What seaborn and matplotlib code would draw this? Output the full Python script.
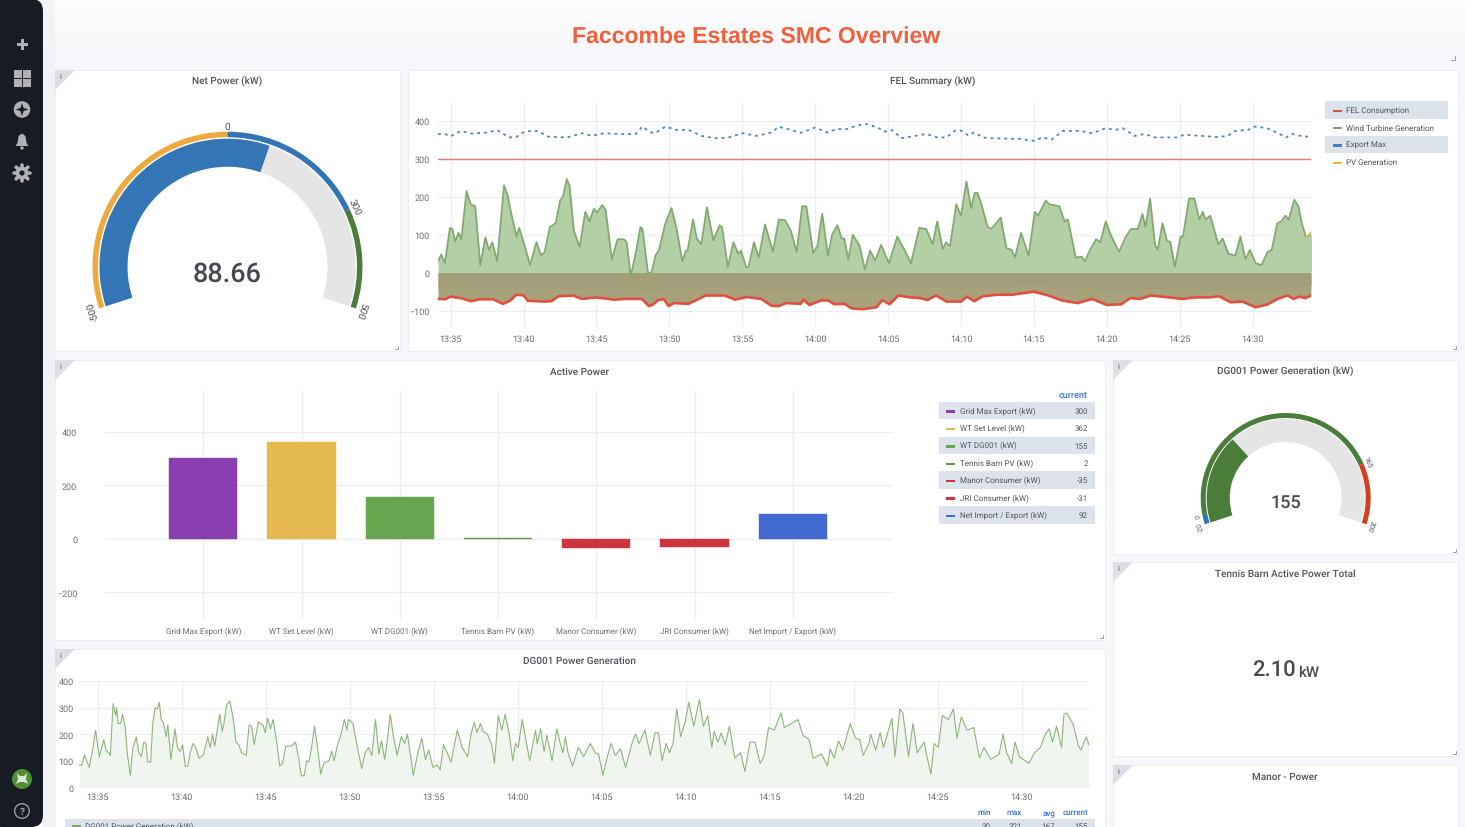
import matplotlib
matplotlib.use("Agg")
import matplotlib.pyplot as plt
from matplotlib.patches import Circle, FancyBboxPatch, Polygon, Rectangle, Wedge
import seaborn as sns
import numpy as np

# all times are minutes after 13:00
time_ticks = [35, 40, 45, 50, 55, 60, 65, 70, 75, 80, 85, 90]
time_labels = ["13:35", "13:40", "13:45", "13:50", "13:55", "14:00", "14:05", "14:10", "14:15", "14:20", "14:25", "14:30"]

wind_t = [34.13, 34.36, 34.6, 34.95, 35.12, 35.31, 35.54, 35.73, 36.09, 36.37, 36.68, 37.03, 37.38, 37.62, 37.86, 38.19,
          38.66, 38.9, 39.13, 39.51, 39.7, 40.08, 40.45, 40.88, 41.21, 41.45, 41.8, 41.99, 42.2, 42.51, 42.7, 42.96,
          43.15, 43.45, 43.85, 44.23, 44.52, 44.82, 45.04, 45.39, 45.63, 46.05, 46.45, 46.88, 47.07, 47.35, 47.73, 48.01,
          48.15, 48.53, 48.77, 49.05, 49.29, 49.71, 50.14, 50.47, 50.89, 51.13, 51.25, 51.62, 51.88, 52.19, 52.57, 53.02,
          53.44, 53.61, 54.01, 54.39, 54.72, 54.91, 55.26, 55.43, 55.8, 56.13, 56.56, 57.1, 57.5, 57.93, 58.33, 58.73,
          59.11, 59.39, 59.86, 60.15, 60.48, 60.88, 61.16, 61.52, 61.82, 61.99, 62.27, 62.58, 63.05, 63.41, 63.76, 64.12,
          64.52, 65.06, 65.63, 66.12, 66.57, 67.14, 67.61, 68.06, 68.37, 68.74, 68.97, 69.25, 69.67, 70, 70.37, 70.7,
          70.94, 71.12, 71.36, 71.83, 72.06, 72.3, 72.72, 73.11, 73.47, 73.7, 74.12, 74.64, 75.06, 75.29, 75.81, 76.04,
          76.74, 77.1, 77.33, 77.87, 78.27, 78.5, 78.85, 79.27, 79.56, 79.93, 80.26, 80.84, 81.31, 81.66, 82.13, 82.44,
          82.65, 82.97, 83.3, 83.49, 83.82, 84.12, 84.36, 84.66, 85.06, 85.22, 85.64, 86, 86.35, 86.58, 86.77, 87.1,
          87.64, 87.94, 88.34, 88.81, 89.16, 89.51, 89.81, 90.21, 90.61, 91.03, 91.31, 91.69, 91.97, 92.25, 92.48, 92.86,
          93.14, 93.37, 93.65, 94.03]
wind_kw = [30, 48, 25, 118, 115, 82, 105, 88, 215, 180, 175, 20, 93, 60, 80, 30,
           230, 205, 160, 95, 118, 70, 20, 80, 45, 55, 120, 125, 130, 190, 200, 246,
           230, 110, 68, 160, 135, 168, 158, 178, 165, 35, 88, 88, 80, -10, 60, 120,
           115, 0, 0, 45, 60, 128, 170, 120, 30, 58, 58, 140, 90, 75, 172, 85,
           125, 120, 15, 80, 50, 58, 15, 15, 80, 40, 127, 55, 140, 138, 110, 55,
           175, 175, 52, 70, 155, 45, 100, 125, 90, 90, 35, 100, 70, 8, 58, 32,
           73, 25, 95, 60, 25, 118, 115, 75, 135, 62, 80, 70, 180, 150, 240, 170,
           210, 210, 185, 120, 115, 125, 145, 65, 60, 40, 105, 45, 160, 150, 190, 180,
           175, 135, 140, 40, 42, 30, 60, 88, 80, 135, 100, 55, 95, 115, 115, 155,
           120, 195, 75, 60, 130, 85, 80, 15, 95, 95, 195, 195, 140, 160, 140, 150,
           75, 90, 50, 45, 95, 35, 60, 25, 20, 55, 60, 130, 135, 150, 140, 192,
           175, 130, 95, 100]

export_t = [34.13, 34.6, 35, 35.7, 36.5, 37.5, 38.2, 39, 39.5, 40.1, 41, 41.7, 43, 44, 44.7, 45.5, 46.5, 47.7, 48.15, 48.7,
            49.1, 49.75, 50.4, 51.3, 52.2, 53.1, 54, 55, 56, 57, 57.5, 58.4, 59, 60, 60.8, 61.5, 62.2, 62.8, 63.5, 64.3,
            64.7, 65.3, 65.9, 67, 67.6, 68.4, 69, 69.6, 70, 70.5, 70.9, 71.5, 72, 73, 74, 75, 75.6, 76.2, 77, 78.2,
            79, 79.9, 80.6, 81.1, 81.9, 82.6, 83.3, 84, 84.8, 85.3, 86.5, 87.6, 88.3, 88.8, 89.7, 90.2, 91, 91.7, 92.3, 92.7,
            93.3, 94]
export_kw = [365, 365, 359, 373, 366, 369, 375, 356, 357, 372, 373, 358, 356, 367, 360, 367, 365, 365, 385, 369,
             369, 385, 376, 376, 360, 354, 355, 367, 360, 369, 384, 375, 368, 382, 369, 378, 378, 387, 391, 382,
             371, 375, 354, 361, 365, 356, 356, 374, 374, 361, 369, 356, 354, 353, 352, 347, 356, 350, 373, 373,
             367, 380, 376, 380, 360, 365, 356, 356, 356, 363, 360, 357, 360, 373, 376, 385, 380, 368, 356, 365,
             360, 357]

fel_t = [34.13, 34.6, 35, 35.7, 36.4, 37, 37.9, 38.6, 39.1, 39.5, 40, 40.3, 41.5, 41.9, 42.4, 43.4, 44, 45, 46.2, 47,
         48.1, 48.6, 48.9, 49.2, 49.6, 49.95, 50.3, 51.3, 51.8, 52.5, 53.8, 54.5, 55.3, 56.3, 57, 57.5, 58, 59, 59.2, 59.6,
         60.4, 60.9, 61.3, 62, 62.5, 63.3, 64.2, 64.6, 65.1, 65.7, 66.5, 67.2, 67.7, 68.3, 69, 70, 70.4, 70.9, 71.5, 72.5,
         73.5, 75, 76, 76.9, 78, 79, 80, 81, 81.6, 82.3, 83, 84, 85.2, 86, 87, 87.7, 88.5, 89.3, 90.2, 91,
         91.7, 92.4, 92.8, 93.2, 93.6, 94]
fel_kw = [-69, -70, -63, -67, -75, -70, -70, -82, -73, -58, -60, -74, -76, -75, -62, -60, -69, -65, -71, -69,
          -69, -88, -83, -73, -69, -88, -80, -82, -73, -60, -60, -71, -64, -69, -87, -88, -80, -82, -71, -85,
          -73, -73, -83, -82, -94, -96, -91, -72, -83, -60, -65, -67, -72, -60, -76, -76, -63, -75, -62, -58,
          -58, -50, -60, -73, -80, -69, -85, -83, -67, -69, -60, -64, -69, -65, -65, -62, -78, -76, -91, -84,
          -69, -60, -69, -63, -67, -60]

band_t = [34.13, 38, 40, 44, 48, 49, 50, 54, 58, 62, 64, 66, 70, 75, 80, 85, 90, 94]
band_kw = [-42, -40, -37, -42, -42, -50, -42, -38, -48, -50, -48, -35, -40, -32, -45, -40, -50, -33]

grid_max_t = [34.13, 94.03]
grid_max_kw = [300, 300]

pv_t = [93.65, 93.9, 94.03]
pv_kw = [95, 100, 108]

fel_legend = ["FEL Consumption", "Wind Turbine Generation", "Export Max", "PV Generation"]
fel_legend_colors = ["#e0503f", "#7ea66a", "#3f7fc8", "#eeb23e"]

bar_names = ["Grid Max Export (kW)", "WT Set Level (kW)", "WT DG001 (kW)", "Tennis Barn PV (kW)",
             "Manor Consumer (kW)", "JRI Consumer (kW)", "Net Import / Export (kW)"]
bar_values = [300, 362, 155, 2, -35, -31, 92]
bar_colors = ["#8a3fb0", "#e3b950", "#68a550", "#5c9a45", "#cc3540", "#cc3540", "#4169cf"]

dg_t = [33.91, 34.05, 34.22, 34.5, 34.73, 34.88, 35.1, 35.25, 35.37, 35.5, 35.66, 35.76, 35.92, 36.07, 36.13, 36.23, 36.37, 36.48, 36.64, 36.76,
        36.95, 37.09, 37.3, 37.46, 37.6, 37.75, 37.87, 37.99, 38.16, 38.28, 38.42, 38.57, 38.67, 38.79, 38.93, 39.08, 39.18, 39.36, 39.61, 39.75,
        39.92, 40.06, 40.22, 40.37, 40.51, 40.68, 40.84, 41.03, 41.29, 41.56, 41.7, 41.84, 41.97, 42.11, 42.27, 42.42, 42.52, 42.68, 42.87, 43.07,
        43.23, 43.4, 43.57, 43.85, 44.02, 44.16, 44.32, 44.57, 44.84, 44.98, 45.12, 45.29, 45.45, 45.66, 45.84, 46.0, 46.2, 46.52, 46.78, 46.97,
        47.13, 47.3, 47.44, 47.58, 47.75, 47.91, 48.11, 48.28, 48.46, 48.77, 48.93, 49.08, 49.28, 49.45, 49.69, 49.84, 49.92, 50.2, 50.47, 50.72,
        50.92, 51.13, 51.33, 51.54, 51.74, 51.89, 52.09, 52.25, 52.42, 52.6, 52.83, 53.07, 53.28, 53.44, 53.65, 53.79, 54.1, 54.3, 54.51, 54.71,
        54.96, 55.22, 55.39, 55.59, 55.84, 56.04, 56.41, 56.7, 57.03, 57.21, 57.42, 57.58, 57.79, 57.95, 58.2, 58.46, 58.62, 58.85, 59.06, 59.26,
        59.53, 59.71, 59.88, 60.04, 60.27, 60.49, 60.72, 61.07, 61.17, 61.37, 61.58, 61.74, 62.05, 62.33, 62.54, 62.7, 62.84, 63.0, 63.27, 63.62,
        63.93, 64.32, 64.62, 64.82, 65.08, 65.32, 65.56, 65.82, 66.13, 66.43, 66.83, 67.03, 67.23, 67.58, 67.9, 68.18, 68.38, 68.6, 68.84, 69.04,
        69.25, 69.47, 69.71, 69.99, 70.19, 70.49, 70.82, 71.06, 71.32, 71.56, 71.7, 71.92, 72.12, 72.36, 72.61, 72.93, 73.27, 73.53, 73.83, 74.13,
        74.44, 74.68, 74.94, 75.28, 75.68, 75.88, 76.29, 76.69, 76.99, 77.35, 77.59, 78.1, 78.44, 78.6, 78.84, 79.1, 79.36, 79.8, 80.11, 80.37,
        80.57, 80.91, 81.02, 81.32, 81.58, 81.78, 82.28, 82.46, 82.75, 82.93, 83.27, 83.53, 83.79, 84.19, 84.44, 84.6, 84.8, 85.04, 85.28, 85.64,
        85.94, 86.15, 86.41, 86.75, 87.15, 87.49, 87.76, 88.16, 88.66, 88.9, 89.11, 89.41, 89.61, 89.87, 90.43, 90.77, 91.12, 91.38, 91.64, 91.84,
        92.08, 92.38, 92.52, 92.68, 93.05, 93.39, 93.53, 93.85, 94.0]
dg_kw = [85, 82, 122, 75, 150, 215, 115, 150, 180, 140, 130, 120, 315, 270, 300, 240, 240, 275, 230, 130,
         45, 145, 190, 130, 115, 170, 165, 95, 95, 240, 300, 295, 320, 255, 240, 190, 235, 105, 220, 150,
         135, 160, 78, 80, 130, 165, 150, 110, 120, 190, 150, 200, 155, 210, 275, 210, 240, 310, 325, 260,
         170, 160, 130, 120, 235, 230, 160, 245, 235, 205, 260, 220, 255, 170, 80, 90, 155, 155, 170, 110,
         42, 45, 100, 95, 155, 230, 140, 50, 90, 100, 135, 100, 160, 190, 255, 215, 255, 240, 150, 70,
         130, 150, 120, 255, 125, 175, 105, 180, 275, 195, 120, 190, 165, 200, 110, 45, 140, 185, 105, 140,
         75, 85, 65, 160, 125, 95, 215, 150, 115, 195, 245, 205, 240, 210, 200, 160, 90, 270, 215, 275,
         190, 100, 165, 150, 255, 180, 100, 215, 165, 220, 135, 195, 100, 220, 165, 130, 190, 130, 80, 150,
         115, 165, 130, 125, 45, 110, 165, 120, 145, 75, 170, 200, 165, 215, 120, 205, 205, 100, 165, 130,
         165, 295, 190, 250, 320, 230, 330, 230, 270, 150, 210, 170, 205, 160, 230, 110, 130, 60, 170, 170,
         90, 120, 225, 215, 280, 225, 240, 255, 195, 180, 110, 125, 80, 145, 110, 175, 140, 240, 185, 180,
         120, 165, 200, 140, 205, 150, 260, 115, 295, 280, 115, 240, 130, 170, 95, 50, 165, 150, 270, 255,
         295, 185, 265, 215, 225, 110, 150, 105, 125, 200, 130, 90, 170, 115, 90, 130, 150, 195, 220, 170,
         230, 150, 275, 280, 240, 155, 140, 190, 160]

dg_columns = ["min", "max", "avg", "current"]
dg_stats = ["30", "321", "167", "155"]

# gauges: stops and fill as a share of the dial sweep
net_stops = [0, 0.5, 0.8, 1]
net_colors = ["#ecaa3e", "#3274b5", "#4a7c3a"]
net_labels = ["-500", "0", "300", "500"]
net_fill = 0.5887

dg_stops = [0, 0.032, 0.806, 1]
dg_colors = ["#3274b5", "#4a7c3a", "#d4401f"]
dg_labels = ["-20", "0", "165", "200"]
dg_fill = 0.305

TEXT = "#52545c"
TICK = "#6b6e76"
BLUE = "#3274c4"
GRID = "#eceef2"
ROW = "#dde3ec"

W, H = 1465, 828
sns.set_theme(style="white")
plt.rcParams["font.family"] = ["Roboto", "DejaVu Sans"]
plt.rcParams["text.hinting"] = "no_hinting"
plt.rcParams["text.hinting_factor"] = 1

fig = plt.figure(figsize=(W / 100, H / 100), dpi=100, facecolor="white")


def px_axes(left, top, right, bottom):
    ax = fig.add_axes([left / W, 1 - bottom / H, (right - left) / W, (bottom - top) / H])
    ax.patch.set_alpha(0)
    return ax


def style_chart(ax, xticks=None, xlabels=None, yticks=None):
    sns.despine(ax=ax, left=True, bottom=True)
    if xticks is not None:
        ax.set_xticks(xticks)
        ax.set_xticklabels(xlabels)
    ax.set_yticks(yticks)
    ax.grid(True, color=GRID, lw=0.9)
    ax.set_axisbelow(True)
    ax.set_xlabel("")
    ax.set_ylabel("")
    ax.tick_params(length=0, labelsize=6.3, labelcolor=TICK, pad=6)


# page layer in pixel coordinates
page = px_axes(0, 0, W, H)
page.axis("off")
page.imshow(np.linspace(1, 0, 60).reshape(-1, 1), extent=(43, W, 60, 0), aspect="auto",
            cmap=matplotlib.colors.LinearSegmentedColormap.from_list("top", ["#f6f7fa", "#fdfdfe"]), zorder=0)
page.add_patch(Rectangle((43, 60), W - 43, H - 60, fc="#f6f7fa", ec="none", zorder=0))
page.set_xlim(0, W)
page.set_ylim(H, 0)
page.add_patch(Rectangle((43, 0), 12, H, fc="#eff0f3", ec="none", alpha=0.6, zorder=0.5))
page.add_patch(FancyBboxPatch((-10, 0), 53, H, boxstyle="round,pad=0,rounding_size=12", fc="#161b24", ec="none", zorder=1))

panels = [(55, 71, 400, 352, "Net Power (kW)"), (408, 71, 1458, 352, "FEL Summary (kW)"),
          (55, 361, 1105, 641, "Active Power"), (1113, 361, 1458, 555, "DG001 Power Generation (kW)"),
          (1113, 563, 1458, 757, "Tennis Barn Active Power Total"), (55, 650, 1105, 840, "DG001 Power Generation"),
          (1113, 766, 1458, 840, "Manor - Power")]
for left, top, right, bottom, title in panels:
    page.add_patch(Rectangle((left, top), right - left, bottom - top, fc="white", ec="#eceef3", lw=0.8, zorder=2))
    page.text((left + right) / 2 - 0.5, top + 10.8, title, ha="center", va="center", fontsize=6.95,
              fontweight="medium", color=TEXT, zorder=3)
    if title != "FEL Summary (kW)":
        page.add_patch(Polygon([(left, top), (left + 20, top), (left, top + 20)], fc="#dcdfe5", ec="none", zorder=3))
        page.text(left + 5.5, top + 6, "i", ha="center", va="center", fontsize=5, fontweight="bold", color="#777a80", zorder=4)
    if bottom < H:
        page.plot([right - 5, right - 2, right - 2], [bottom - 2, bottom - 2, bottom - 5], color="#9a9da3", lw=0.7, zorder=4)

page.plot([1451, 1455, 1455], [61, 61, 57], color="#9a9da3", lw=0.7, zorder=4)
page.text(756, 37, "Faccombe Estates SMC Overview", ha="center", va="center", fontsize=16.6,
          fontweight="bold", family="Liberation Sans", color="#f1603c", zorder=4)

# side menu icons
ICON = "#b0b1b5"
page.add_patch(Rectangle((16.5, 43.5), 11, 3, fc=ICON, ec="none", zorder=3))
page.add_patch(Rectangle((20.5, 39.5), 3, 11, fc=ICON, ec="none", zorder=3))
for dx, dy in [(14, 71), (23, 71), (14, 80), (23, 80)]:
    page.add_patch(Rectangle((dx, dy), 7.5, 7.5, fc=ICON, ec="none", zorder=3))
page.add_patch(Circle((22, 110.5), 8.3, fc=ICON, ec="none", zorder=3))
page.add_patch(Polygon([(22, 104), (23.6, 109), (28.5, 110.5), (23.6, 112), (22, 117), (20.4, 112), (15.5, 110.5), (20.4, 109)],
                       fc="#161b24", ec="none", zorder=4))
page.add_patch(Polygon([(22, 134.5), (25.5, 137), (26.5, 144), (28.5, 147), (15.5, 147), (17.5, 144), (18.5, 137)], fc=ICON, ec="none", zorder=3))
page.add_patch(Circle((22, 149), 1.7, fc=ICON, ec="none", zorder=3))
page.add_patch(Circle((22, 174), 6.4, fc=ICON, ec="none", zorder=3))
for ang in np.arange(0, 360, 45):
    page.plot([22, 22 + 8.3 * np.cos(np.radians(ang))], [174, 174 + 8.3 * np.sin(np.radians(ang))], color=ICON, lw=2.6, zorder=3)
page.add_patch(Circle((22, 174), 2.6, fc="#161b24", ec="none", zorder=4))
page.add_patch(Circle((22, 780), 10, fc="#4f8f34", ec="none", zorder=3))
page.add_patch(Polygon([(17, 774), (20, 777), (24, 777), (27, 774), (26, 780), (28, 785), (24, 783), (20, 783), (16, 785), (18, 780)],
                       fc="#dfe6cf", ec="none", zorder=4))
page.add_patch(Circle((22, 812), 7.3, fc="none", ec="#9b9da1", lw=1, zorder=3))
page.text(22, 812, "?", ha="center", va="center", fontsize=7.5, fontweight="bold", color="#9b9da1", zorder=4)

# FEL summary
ax = px_axes(438, 103, 1311.4, 327)
ax.fill_between(wind_t, wind_kw, 0, where=np.array(wind_kw) >= -20, color="#b3cfa6", lw=0, zorder=1)
ax.fill_between(fel_t, fel_kw, 0, color="#a8a27c", lw=0, zorder=2)
ax.fill_between(band_t, band_kw, 0, color="#a39e78", lw=0, zorder=2.1)
sns.lineplot(x=wind_t, y=wind_kw, ax=ax, color="#82a96f", lw=1.3, zorder=3)
sns.lineplot(x=pv_t, y=pv_kw, ax=ax, color="#eeb23e", lw=1.2, zorder=4)
sns.lineplot(x=fel_t, y=fel_kw, ax=ax, color="#e0503f", lw=1.9, zorder=4)
sns.lineplot(x=export_t, y=export_kw, ax=ax, color="#4d86c6", lw=1.3, linestyle=(0, (1.6, 2.2)), zorder=3)
sns.lineplot(x=grid_max_t, y=grid_max_kw, ax=ax, color="#e97b70", lw=1.0, zorder=3)
ax.set_xlim(34.13, 94.03)
ax.set_ylim(-140.3, 449.2)
style_chart(ax, time_ticks, time_labels, [-100, 0, 100, 200, 300, 400])
ax.tick_params(axis="x", pad=6)

for i, (name, color) in enumerate(zip(fel_legend, fel_legend_colors)):
    y = 111 + i * 17.3
    if i % 2 == 0:
        page.add_patch(Rectangle((1325, y - 8.7), 123, 17.4, fc=ROW, ec="none", zorder=3))
    page.add_patch(Rectangle((1333, y - 0.3), 8.5, 2.4, fc=color, ec="none", zorder=4))
    page.text(1346, y, name, va="center", fontsize=6.1, color=TEXT, zorder=4)

# active power bars
ax = px_axes(105, 392.3, 893, 620.3)
sns.barplot(x=bar_names, y=bar_values, hue=bar_names, palette=bar_colors, order=bar_names, hue_order=bar_names,
            dodge=False, legend=False, width=0.695, saturation=1, ax=ax, zorder=3)
for bar in ax.patches:
    bar.set_edgecolor(bar.get_facecolor())
    bar.set_linewidth(0.3)
ax.set_xlim(-1, 7.02)
ax.set_ylim(-301, 551)
style_chart(ax, yticks=[-200, 0, 200, 400])
ax.tick_params(axis="y", pad=20)
ax.tick_params(axis="x", pad=5, labelsize=5.6)

page.text(1088, 396.8, "current", ha="right", va="center", fontsize=6.2, fontweight="medium", color=BLUE, zorder=4)
for i, (name, value, color) in enumerate(zip(bar_names, bar_values, bar_colors)):
    y = 411.5 + i * 17.4
    if i % 2 == 0:
        page.add_patch(Rectangle((939, y - 8.7), 156, 17.4, fc=ROW, ec="none", zorder=3))
    page.add_patch(Rectangle((946, y - 0.2), 9, 2.4, fc=color, ec="none", zorder=4))
    page.text(960, y, name, va="center", fontsize=6.1, color=TEXT, zorder=4)
    page.text(1088, y, str(value), ha="right", va="center", fontsize=6.1, color=TEXT, zorder=4)

# DG001 trace
ax = px_axes(79.3, 682, 1088.8, 788.3)
ax.fill_between(dg_t, dg_kw, 0, color="#f1f5f0", lw=0, zorder=1)
sns.lineplot(x=dg_t, y=dg_kw, ax=ax, color="#8db57c", lw=0.8, zorder=3)
ax.set_xlim(33.91, 94.0)
ax.set_ylim(0, 400)
style_chart(ax, time_ticks, time_labels, [0, 100, 200, 300, 400])
ax.tick_params(axis="y", pad=4)
ax.tick_params(axis="x", pad=3.5)

for name, value, xr in zip(dg_columns, dg_stats, [991, 1022, 1055, 1088]):
    page.text(xr, 813, name, ha="right", va="center", fontsize=6.0, fontweight="medium", color=BLUE, zorder=4)
    page.text(xr, 826.5, value, ha="right", va="center", fontsize=6.1, color=TEXT, zorder=4)
page.add_patch(Rectangle((65, 820), 1030, 12, fc=ROW, ec="none", zorder=3))
page.add_patch(Rectangle((72, 826), 9, 2.4, fc="#7ea66a", ec="none", zorder=4))
page.text(85, 826.5, "DG001 Power Generation (kW)", va="center", fontsize=6.1, color=TEXT, zorder=4)


def gauge(cx, cy, r_out, r_ring, r_hi, r_lo, stops, colors, labels, fill, fill_color, value, value_size, value_dy, label_size):
    # dial runs clockwise from 198 to -18 degrees, page y is inverted so wedge angles flip
    angle = lambda share: 198 - 216 * share
    page.add_patch(Wedge((cx, cy), r_hi, -angle(0), -angle(1), width=r_hi - r_lo, fc="#e5e5e5", ec="none", zorder=3))
    page.add_patch(Wedge((cx, cy), r_hi, -angle(0), -angle(fill), width=r_hi - r_lo, fc=fill_color, ec="none", zorder=4))
    for start, end, color in zip(stops[:-1], stops[1:], colors):
        page.add_patch(Wedge((cx, cy), r_out, -angle(start), -angle(end), width=r_out - r_ring, fc=color, ec="none", zorder=4))
    for share, label in zip(stops, labels):
        a = np.radians(angle(share))
        r_text = r_out + label_size * 0.8
        page.text(cx + r_text * np.cos(a), cy - r_text * np.sin(a), label, ha="center", va="center",
                  rotation=angle(share) - 90, rotation_mode="anchor", fontsize=label_size, color=TEXT, zorder=5)
    page.text(cx, cy + value_dy, value, ha="center", va="center", fontsize=value_size, fontweight="medium", color="#464a50", zorder=5)


gauge(227.5, 267.7, 135, 129.5, 128, 100, net_stops, net_colors, net_labels, net_fill, "#3475b5", "88.66", 19.6, 6.5, 7.4)
gauge(1285.7, 499, 85, 80, 79, 56, dg_stops, dg_colors, dg_labels, dg_fill, "#4a7c3a", "155", 13.2, 5, 5.2)

# tennis barn stat
page.text(1274, 671, "2.10", ha="center", va="center", fontsize=16, fontweight="medium", color="#464a50", zorder=4)
page.text(1308.5, 673, "kW", ha="center", va="center", fontsize=10.5, fontweight="medium", color="#464a50", zorder=4)

fig.savefig("out.png", dpi=100)
plt.close(fig)
